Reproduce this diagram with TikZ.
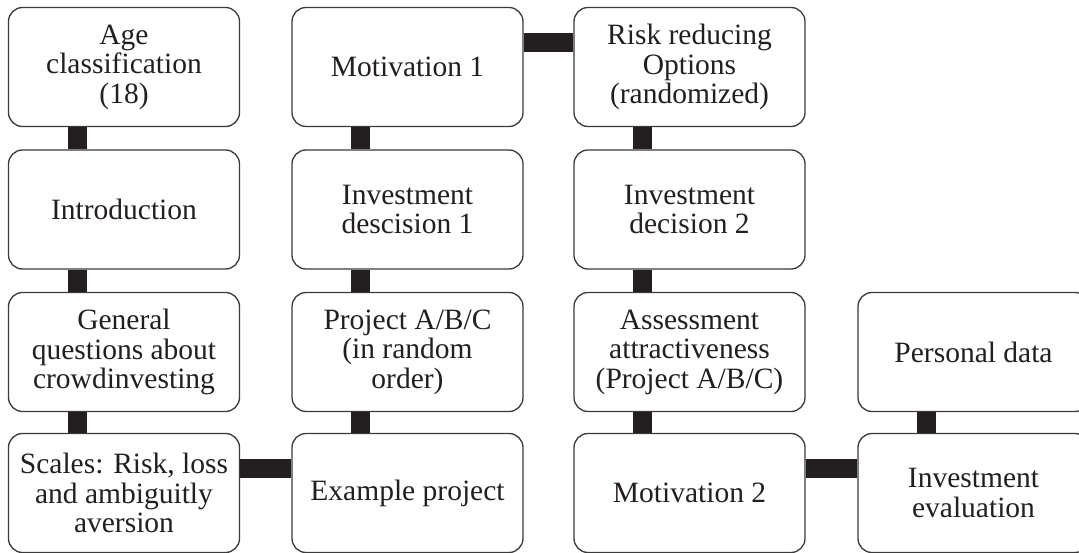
\documentclass[tikz,border=0pt]{standalone}
\usepackage{fontspec}
\setmainfont{Liberation Serif}
\usetikzlibrary{calc}
\definecolor{ink}{HTML}{231F20}
\definecolor{edge}{HTML}{3A3A3A}
\tikzset{
  box/.style={draw=edge, line width=1.3pt, fill=white, rounded corners=14pt,
    minimum width=231pt, minimum height=119pt, inner sep=0pt,
    align=center, text=ink, font=\fontsize{29.5}{29.5}\selectfont},
  conn/.style={draw=ink, line width=19pt}
}
\begin{document}
\begin{tikzpicture}[x=1pt,y=-1pt]
\useasboundingbox (0,0) rectangle (1079,553);
\clip (0,0) rectangle (1079,553);
% column 1
\node[box] (a1) at (124,67) {Age\\classification\\(18)};
\node[box] (a2) at (124,209.5) {Introduction};
\node[box] (a3) at (124,352) {General\\questions about\\crowdinvesting};
\node[box] (a4) at (124,493) {Scales: Risk, loss\\and ambiguitly\\aversion};
% column 2
\node[box] (b1) at (407.5,67) {Motivation 1};
\node[box] (b2) at (407.5,209.5) {Investment\\descision 1};
\node[box] (b3) at (407.5,352) {Project A/B/C\\(in random\\order)};
\node[box] (b4) at (407.5,493) {Example project};
% column 3
\node[box] (c1) at (689.5,67) {Risk reducing\\Options\\(randomized)};
\node[box] (c2) at (689.5,209.5) {Investment\\decision 2};
\node[box] (c3) at (689.5,352) {Assessment\\attractiveness\\(Project A/B/C)};
\node[box] (c4) at (689.5,493) {Motivation 2};
% column 4
\node[box] (d3) at (973.5,352) {Personal data};
\node[box] (d4) at (973.5,493) {Investment\\evaluation};
% vertical connectors
\foreach \u/\v in {a1/a2,a2/a3,a3/a4,b1/b2,b2/b3,b3/b4,c1/c2,c2/c3,c3/c4,d3/d4}{
  \draw[conn] ($(\u.south west)+(69.5,0)$) -- ($(\v.north west)+(69.5,0)$);
}
% horizontal connectors
\foreach \u/\v in {a4/b4,b1/c1,c4/d4}{
  \draw[conn] ($(\u.north east)+(0,35.5)$) -- ($(\v.north west)+(0,35.5)$);
}
\end{tikzpicture}
\end{document}
